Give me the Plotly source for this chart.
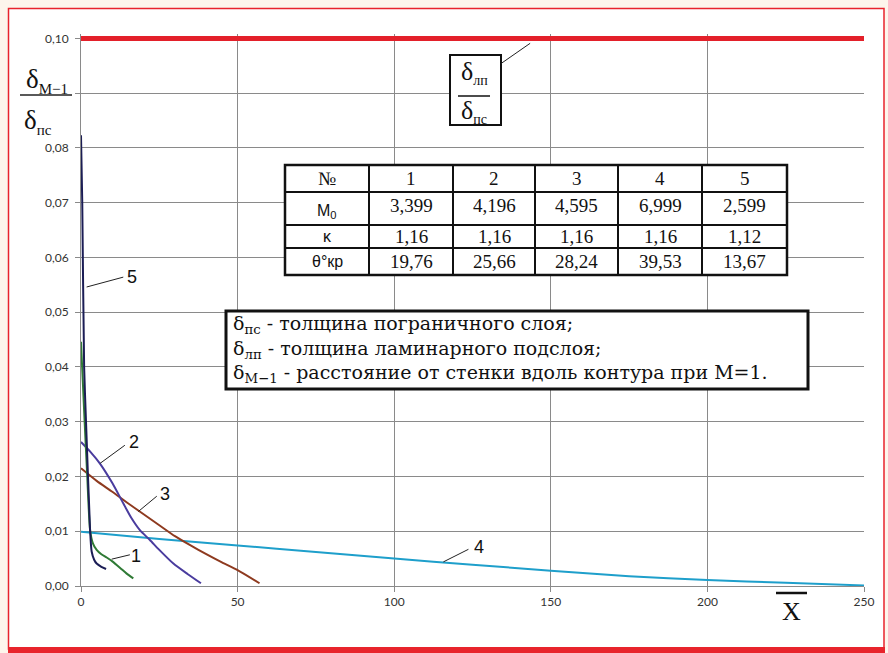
import plotly.graph_objects as go

# ---------------- data ----------------
x_ticks = [0, 50, 100, 150, 200, 250]
x_tick_text = ["0", "50", "100", "150", "200", "250"]
y_ticks = [0.00, 0.01, 0.02, 0.03, 0.04, 0.05, 0.06, 0.07, 0.08, 0.09, 0.10]
y_tick_text = ["0,00", "0,01", "0,02", "0,03", "0,04", "0,05", "0,06", "0,07", "0,08", "", "0,10"]

x1 = [0, 1.0, 2.0, 2.9, 3.8, 5.0, 6.5, 8.2, 10.0, 12.5, 14.5, 16.7]
y1 = [0.0446, 0.032, 0.020, 0.0102, 0.0078, 0.0066, 0.0058, 0.0052, 0.0045, 0.0033, 0.0023, 0.0014]

x2 = [0, 3, 6, 10, 13.5, 16, 18.8, 22, 25, 29.5, 34, 38.3]
y2 = [0.0263, 0.0245, 0.0224, 0.0188, 0.0151, 0.0125, 0.0102, 0.0084, 0.0066, 0.0041, 0.0022, 0.0005]

x3 = [0, 5, 10, 15, 20, 25, 30, 35, 40, 45, 50, 57]
y3 = [0.0215, 0.0192, 0.0172, 0.0151, 0.0131, 0.0111, 0.0091, 0.0074, 0.0058, 0.0043, 0.0029, 0.0005]

x4 = [0, 25, 50, 75, 100, 125, 150, 175, 200, 225, 250]
y4 = [0.0099, 0.0086, 0.0074, 0.0062, 0.0050, 0.0039, 0.0028, 0.0018, 0.0011, 0.0006, 0.0001]

x5 = [0, 0.4, 1.0, 1.6, 2.9, 3.4, 4.2, 5.0, 6.5, 8.0]
y5 = [0.0823, 0.070, 0.040, 0.030, 0.0102, 0.0063, 0.0048, 0.0041, 0.0035, 0.0031]

x_ratio = [0, 250]
y_ratio = [0.10, 0.10]

table_header = ["№", "1", "2", "3", "4", "5"]
table_M0 = ["3,399", "4,196", "4,595", "6,999", "2,599"]
table_k = ["1,16", "1,16", "1,16", "1,16", "1,12"]
table_theta = ["19,76", "25,66", "28,24", "39,53", "13,67"]

legend_lines = [
    "δ<sub>пс</sub> - толщина пограничного слоя;",
    "δ<sub>лп</sub> - толщина ламинарного подслоя;",
    "δ<sub>M−1</sub> - расстояние от стенки вдоль контура при М=1.",
]

# ---------------- layout helpers ----------------
WIDTH, HEIGHT = 888, 653
ML, MR, MT, MB = 81, 24, 34, 67
PW = WIDTH - ML - MR
PH = HEIGHT - MT - MB


def px(x):
    return (x - ML) / PW


def py(y):
    return (HEIGHT - MB - y) / PH


SERIF = "Liberation Serif"
SANS = "Liberation Sans"

fig = go.Figure()

curves = [
    (x4, y4, "#1e9fcb"),
    (x3, y3, "#8e3a1f"),
    (x2, y2, "#4a3c9e"),
    (x1, y1, "#2f7a35"),
    (x5, y5, "#1b1d55"),
    (x_ratio, y_ratio, "#e3202a"),
]
for xs, ys, col in curves:
    w = 5 if col == "#e3202a" else 2
    fig.add_trace(go.Scatter(x=xs, y=ys, mode="lines",
                             line=dict(color=col, width=w, shape="spline", smoothing=0.6),
                             showlegend=False, hoverinfo="skip"))

shapes = []
annotations = []


def note(x, y, text, font, xref="paper", yref="paper", xanchor="center", align="center"):
    annotations.append(dict(x=x, y=y, xref=xref, yref=yref, text=text, showarrow=False,
                            xanchor=xanchor, yanchor="middle", align=align, font=font))


# outer frame
shapes.append(dict(type="rect", xref="paper", yref="paper", layer="below",
                   x0=px(8.5), x1=px(884), y0=py(649), y1=py(8.5),
                   fillcolor="white", line=dict(color="#e8242c", width=1.5)))
shapes.append(dict(type="rect", xref="paper", yref="paper", layer="above",
                   x0=px(8), x1=px(885), y0=py(653), y1=py(647),
                   fillcolor="#e8242c", line=dict(width=0)))

# curve labels with leader lines (data coords)
labels = [
    ("5", 16.3, 0.0564, 1.8, 0.0546, 13.5, 0.0564),
    ("2", 16.8, 0.0263, 6.1, 0.0224, 14.0, 0.0257),
    ("3", 26.9, 0.0168, 18.3, 0.0136, 24.2, 0.0164),
    ("1", 17.7, 0.0055, 9.8, 0.0049, 15.6, 0.0057),
    ("4", 127.0, 0.0072, 115.7, 0.0044, 123.7, 0.0067),
]
for t, tx, ty, lx0, ly0, lx1, ly1 in labels:
    shapes.append(dict(type="line", xref="x", yref="y", x0=lx0, y0=ly0, x1=lx1, y1=ly1,
                       line=dict(color="#222222", width=1)))
    note(tx, ty, t, dict(family=SANS, size=18, color="#111111"), xref="x", yref="y")

# y-axis title fraction
note(px(47), py(80), "δ<sub><span style='font-size:15px'>M−1</span></sub>",
     dict(family=SERIF, size=27, color="#111111"))
note(px(38), py(121), "δ<sub><span style='font-size:15px'>пс</span></sub>",
     dict(family=SERIF, size=27, color="#111111"))
shapes.append(dict(type="line", xref="paper", yref="paper", x0=px(20), x1=px(72),
                   y0=py(95), y1=py(95), line=dict(color="#222222", width=1.5)))

# x-axis title with overbar
note(px(791), py(611), "X", dict(family=SERIF, size=26, color="#111111"))
shapes.append(dict(type="line", xref="paper", yref="paper", x0=px(776), x1=px(807),
                   y0=py(593), y1=py(593), line=dict(color="#111111", width=2.5)))

# ratio box δлп/δпс
shapes.append(dict(type="rect", xref="paper", yref="paper", x0=px(450), x1=px(501),
                   y0=py(125), y1=py(55), fillcolor="white", line=dict(color="#111111", width=2)))
shapes.append(dict(type="line", xref="paper", yref="paper", x0=px(458), x1=px(490),
                   y0=py(96), y1=py(96), line=dict(color="#111111", width=1.5)))
shapes.append(dict(type="line", xref="x", yref="y", x0=134.1, y0=0.0954, x1=143.4, y1=0.0991,
                   line=dict(color="#222222", width=1)))
note(px(474), py(73), "δ<sub><span style='font-size:14px'>лп</span></sub>",
     dict(family=SERIF, size=26, color="#111111"))
note(px(474), py(112), "δ<sub><span style='font-size:14px'>пс</span></sub>",
     dict(family=SERIF, size=26, color="#111111"))

# parameter table
col_edges = [285, 369, 453, 535, 618, 702, 787]
row_edges = [165, 192, 225, 248, 275]
shapes.append(dict(type="rect", xref="paper", yref="paper", x0=px(col_edges[0]), x1=px(col_edges[-1]),
                   y0=py(row_edges[-1]), y1=py(row_edges[0]), fillcolor="white",
                   line=dict(color="#111111", width=2.5)))
for cx in col_edges[1:-1]:
    shapes.append(dict(type="line", xref="paper", yref="paper", x0=px(cx), x1=px(cx),
                       y0=py(row_edges[-1]), y1=py(row_edges[0]), line=dict(color="#111111", width=2)))
for ry in row_edges[1:-1]:
    shapes.append(dict(type="line", xref="paper", yref="paper", x0=px(col_edges[0]), x1=px(col_edges[-1]),
                       y0=py(ry), y1=py(ry), line=dict(color="#111111", width=2)))

row_labels = ["М<sub>0</sub>", "κ", "θ°кр"]
rows = [table_M0, table_k, table_theta]
row_centers = [(row_edges[i] + row_edges[i + 1]) / 2 for i in range(4)]
col_centers = [(col_edges[i] + col_edges[i + 1]) / 2 for i in range(6)]
for j, t in enumerate(table_header):
    note(px(col_centers[j]), py(row_centers[0]), t, dict(family=SERIF, size=19, color="#111111"))
for i, (lab, vals) in enumerate(zip(row_labels, rows)):
    yc = row_centers[i + 1]
    note(px(col_centers[0]), py(yc + (3 if i == 0 else 0)), lab, dict(family=SANS, size=16, color="#111111"))
    for j, v in enumerate(vals):
        note(px(col_centers[j + 1]), py(yc - (3 if i == 0 else 0)), v,
             dict(family=SERIF, size=19, color="#111111"))

# legend text box
shapes.append(dict(type="rect", xref="paper", yref="paper", x0=px(226), x1=px(808),
                   y0=py(389), y1=py(311), fillcolor="white", line=dict(color="#111111", width=3)))
note(px(231), py(349), "<br>".join(legend_lines),
     dict(family="DejaVu Serif", size=19, color="#111111"), xanchor="left", align="left")

fig.update_layout(
    width=WIDTH, height=HEIGHT,
    margin=dict(l=ML, r=MR, t=MT, b=MB, pad=0),
    paper_bgcolor="#fdf6ec",
    plot_bgcolor="white",
    shapes=shapes,
    annotations=annotations,
    xaxis=dict(range=[0, 250], tickvals=x_ticks, ticktext=x_tick_text,
               showgrid=True, gridcolor="#8a8a8a", gridwidth=1,
               showline=True, linecolor="#8a8a8a", linewidth=1,
               ticks="outside", ticklen=5, tickcolor="#8a8a8a",
               tickfont=dict(family="Lato", size=12, color="#333333"),
               zeroline=False, fixedrange=True),
    yaxis=dict(range=[0, 0.1008], tickvals=y_ticks, ticktext=y_tick_text,
               showgrid=True, gridcolor="#8a8a8a", gridwidth=1,
               showline=True, linecolor="#8a8a8a", linewidth=1,
               ticks="outside", ticklen=5, tickcolor="#8a8a8a",
               tickfont=dict(family="Lato", size=12, color="#333333"),
               ticklabelstandoff=4,
               zeroline=False, fixedrange=True),
)

fig.write_html("out.html", config={"displayModeBar": False},
               post_script="document.body.style.margin='0';")
